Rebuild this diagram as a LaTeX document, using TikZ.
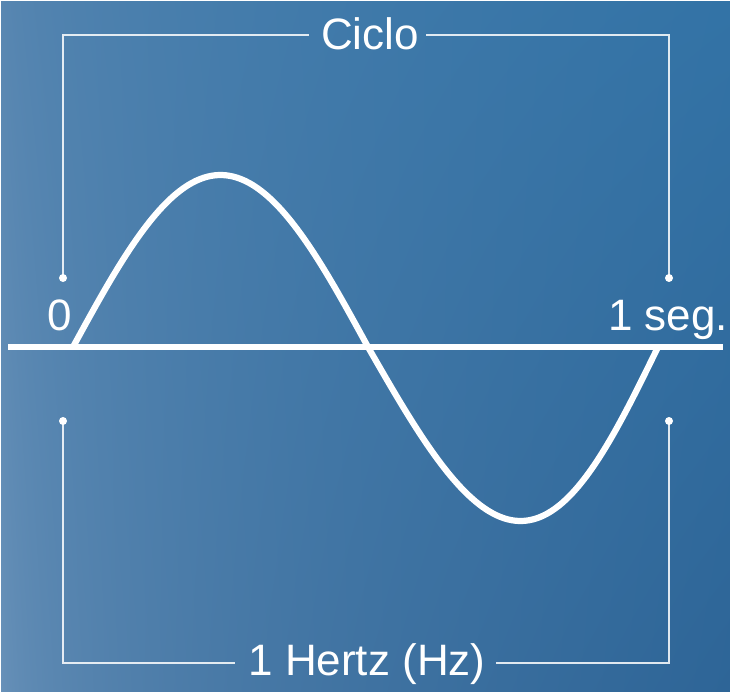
\documentclass[tikz,border=0pt]{standalone}
\usepackage{fontspec}
\setmainfont{Liberation Sans}
\pgfdeclarefunctionalshading{bgshade}{\pgfpointorigin}{\pgfpoint{730bp}{692bp}}{}{
692 div exch 730 div sqrt
2 copy mul 0.079 mul 2 index -0.059 mul add 1 index -0.236 mul add 0.416 add 3 1 roll
2 copy mul 0.098 mul 2 index -0.043 mul add 1 index -0.18 mul add 0.576 add 3 1 roll
2 copy mul 0.09 mul 2 index -0.031 mul add 1 index -0.137 mul add 0.729 add 3 1 roll
pop pop
}
\tikzset{
  bracketline/.style={draw=white, draw opacity=0.85, line width=1.3bp},
  enddot/.style={fill=white},
  thickline/.style={draw=white, line width=6.2bp},
  lbl/.style={text=white, inner sep=0pt, anchor=base, font=\fontsize{44bp}{50bp}\selectfont}
}
\begin{document}
\begin{tikzpicture}[x=1bp, y=-1bp]
\useasboundingbox (0,0) rectangle (730,692);
\node[inner sep=0pt, anchor=north west] (bg) at (0,0) {\pgfuseshading{bgshade}};

% bracket corner coordinates
\coordinate (tl) at (63,35);
\coordinate (tr) at (669,35);
\coordinate (dtl) at (63,278);
\coordinate (dtr) at (669,278);
\coordinate (bl) at (63,663);
\coordinate (br) at (669,663);
\coordinate (dbl) at (63,421);
\coordinate (dbr) at (669,421);

% labels
\node[lbl] (ciclo) at (370,50) {Ciclo};
\node[lbl] (hertz) at (367,675) {1 Hertz (Hz)};
\node[lbl] (zero) at (60,330) {0};
\node[lbl] (seg) at (668,330) {1 seg.};

% brackets
\draw[bracketline] (dtl) -- (tl) -- ([xshift=-12bp]ciclo.west |- tl);
\draw[bracketline] ([xshift=7bp]ciclo.east |- tr) -- (tr) -- (dtr);
\draw[bracketline] (dbl) -- (bl) -- ([xshift=-13bp]hertz.west |- bl);
\draw[bracketline] ([xshift=10bp]hertz.east |- br) -- (br) -- (dbr);
\fill[enddot] (dtl) circle (4bp);
\fill[enddot] (dtr) circle (4bp);
\fill[enddot] (dbl) circle (4bp);
\fill[enddot] (dbr) circle (4bp);

% axis
\coordinate (axl) at (8,347);
\coordinate (axr) at (723,347);
\draw[thickline] (axl) -- (axr);

% sine wave
\draw[thickline, line join=round] plot[domain=0:180, samples=80, smooth] ({73 + \x/180*295}, {347 - 172*sin(\x)})
  -- plot[domain=0:1, samples=80, smooth] ({368 + 290*(\x + 0.026*sin(180*\x))}, {347 + 174*sin(180*\x)});
\end{tikzpicture}
\end{document}
